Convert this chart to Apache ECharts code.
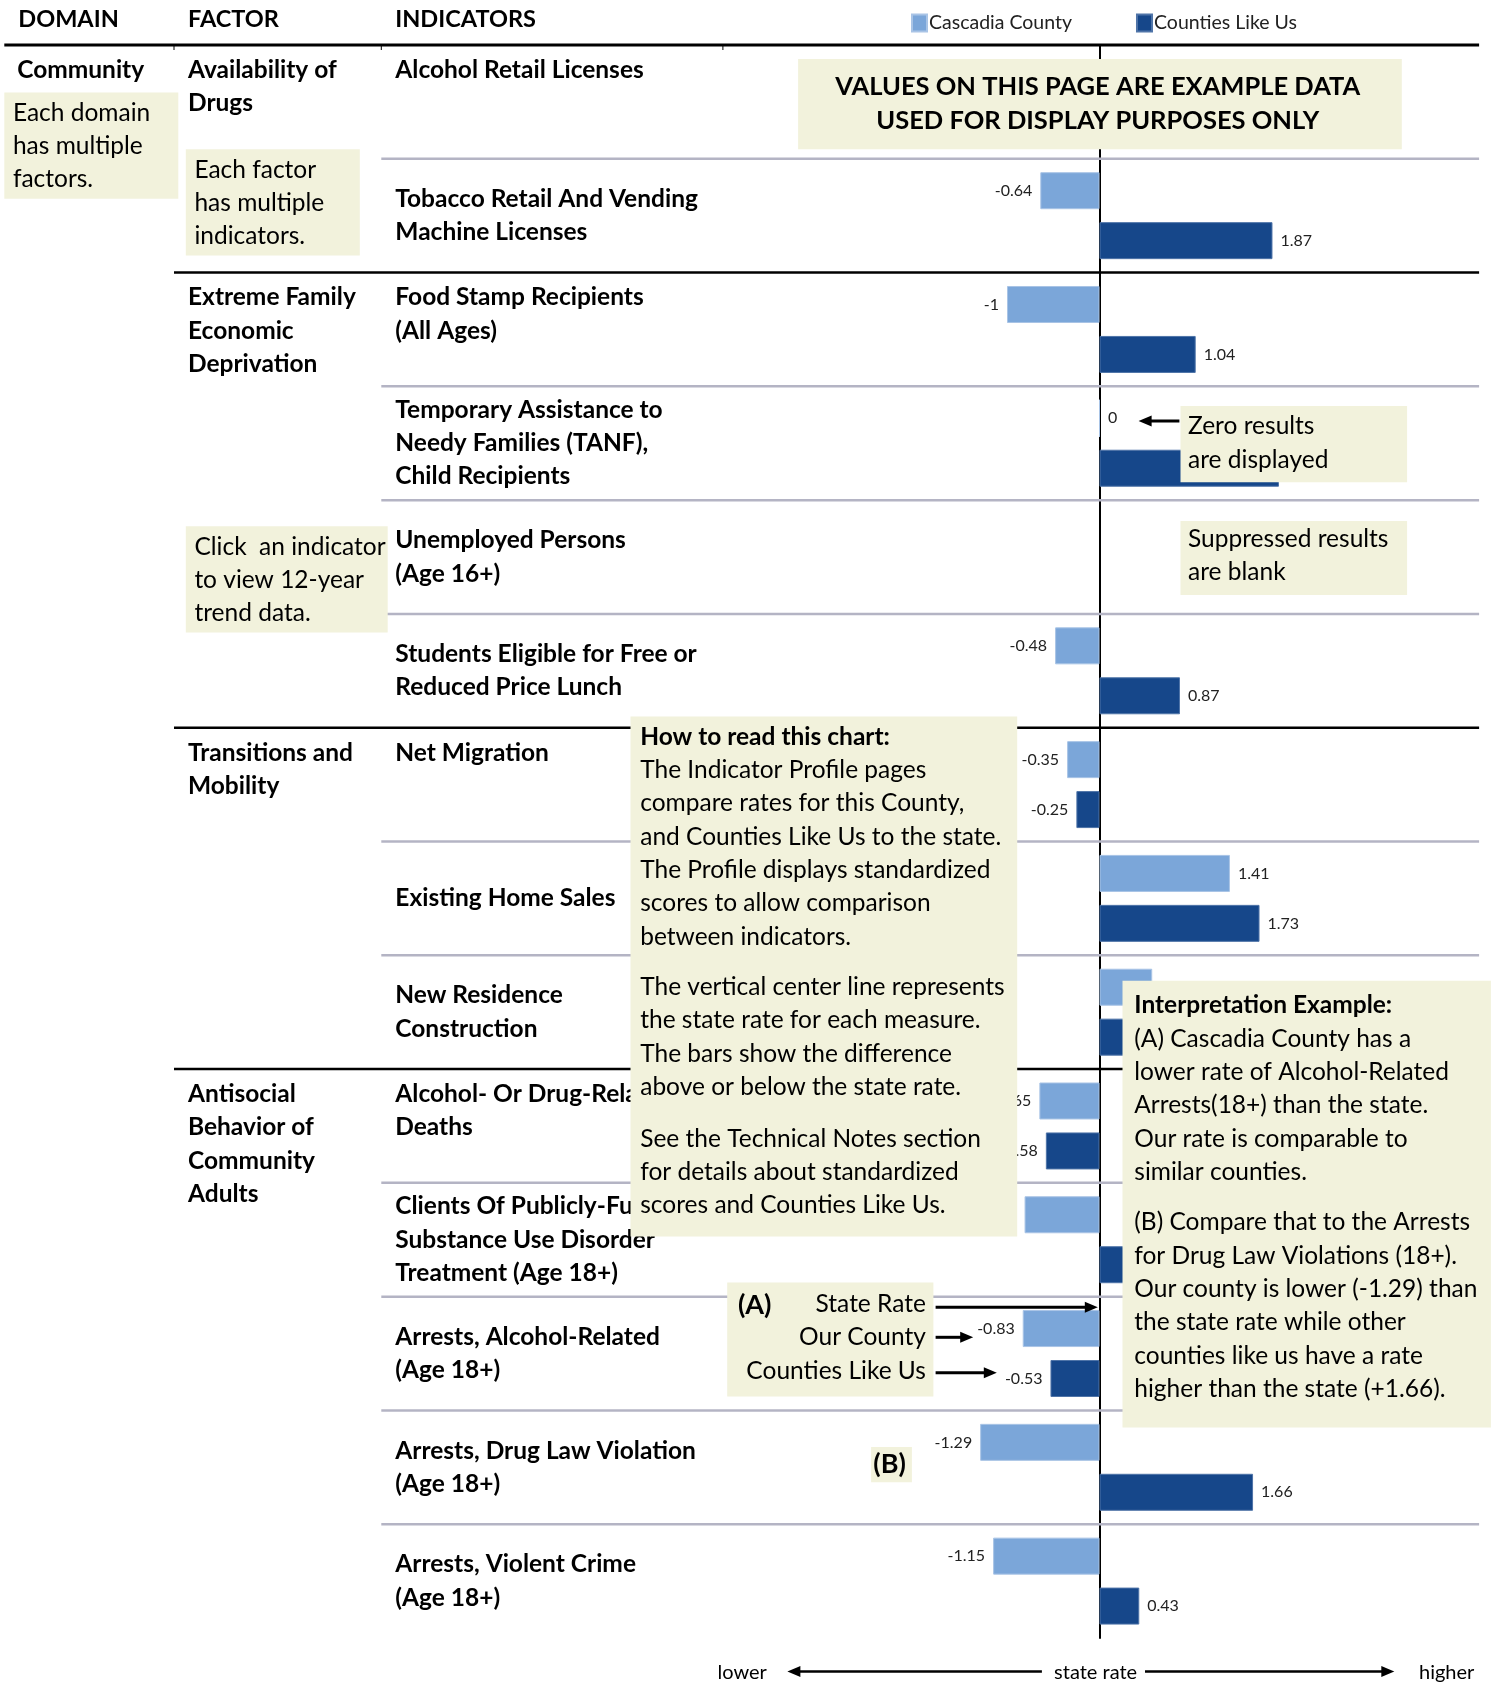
<!DOCTYPE html>
<html>
<head>
<meta charset="utf-8">
<script src="https://cdn.jsdelivr.net/npm/echarts@6/dist/echarts.min.js"></script>
<style>
html, body { margin: 0; padding: 0; background: #fff; }
#chart { width: 1492px; height: 1684px; }
</style>
</head>
<body>
<div id="chart"></div>
<script>
// indicators, top to bottom
var indicators = [
    'Alcohol Retail Licenses',
    'Tobacco Retail And Vending\nMachine Licenses',
    'Food Stamp Recipients\n(All Ages)',
    'Temporary Assistance to\nNeedy Families (TANF),\nChild Recipients',
    'Unemployed Persons\n(Age 16+)',
    'Students Eligible for Free or\nReduced Price Lunch',
    'Net Migration',
    'Existing Home Sales',
    'New Residence\nConstruction',
    'Alcohol- Or Drug-Related\nDeaths',
    'Clients Of Publicly-Funded\nSubstance Use Disorder\nTreatment (Age 18+)',
    'Arrests, Alcohol-Related\n(Age 18+)',
    'Arrests, Drug Law Violation\n(Age 18+)',
    'Arrests, Violent Crime\n(Age 18+)'
];
// null = suppressed / blank
var cascadia = [null, -0.64, -1, 0, null, -0.48, -0.35, 1.41, 0.57, -0.65, -0.81, -0.83, -1.29, -1.15];
var likeUs = [null, 1.87, 1.04, 1.94, null, 0.87, -0.25, 1.73, 0.62, -0.58, 0.75, -0.53, 1.66, 0.43];
var factors = ['Availability of\nDrugs', 'Extreme Family\nEconomic\nDeprivation', 'Transitions and\nMobility', 'Antisocial\nBehavior of\nCommunity\nAdults'];
var factorStart = [0, 2, 6, 9];
var legendNames = ['Cascadia County', 'Counties Like Us'];

var FONT = 'Lato';
var BOX = '#f2f2dc';
var FS = 24.5;
var S = function (v) { return Math.round(v * 1492 / 1389 * 10) / 10; };
var gridTop = 45, gridH = 1593, rowH = gridH / indicators.length;
var LH = S(31);

var els = [];
function text(x, y, str, opt) {
    opt = opt || {};
    var n = str.split('\n').length;
    els.push({
        type: 'text', x: x, y: y + (n - 1) * LH / 2, z: opt.z || 51,
        style: {
            text: str, fill: '#000', fontFamily: FONT,
            fontSize: opt.size || FS, fontWeight: opt.bold ? 'bold' : 'normal',
            align: opt.align || 'left', verticalAlign: 'middle', lineHeight: LH
        }
    });
}
function box(x, y, w, h) {
    els.push({ type: 'rect', z: 50, shape: { x: S(x), y: S(y), width: S(w), height: S(h) }, style: { fill: BOX } });
}
function hline(x1, x2, y, color, w) {
    els.push({ type: 'line', z: 1, shape: { x1: x1, y1: y, x2: x2, y2: y }, style: { stroke: color, lineWidth: w } });
}
function arrow(x1, x2, y, w) {
    var d = x2 > x1 ? 1 : -1;
    els.push({ type: 'line', z: 52, shape: { x1: x1, y1: y, x2: x2 - d * 8, y2: y }, style: { stroke: '#000', lineWidth: w || 3 } });
    els.push({ type: 'polygon', z: 52, shape: { points: [[x2, y], [x2 - d * 13, y - 5.5], [x2 - d * 13, y + 5.5]] }, style: { fill: '#000' } });
}

// header
text(S(17), S(18), 'DOMAIN', { bold: true, size: 23.5 });
text(S(175), S(18), 'FACTOR', { bold: true, size: 23.5 });
text(S(368), S(18), 'INDICATORS', { bold: true, size: 23.5 });
hline(S(4), S(1377), gridTop, '#000', 3);
[162, 355, 673].forEach(function (x) {
    els.push({ type: 'line', z: 1, shape: { x1: S(x), y1: gridTop, x2: S(x), y2: gridTop + 5 }, style: { stroke: '#000', lineWidth: 1 } });
});

// row separators
for (var i = 1; i < indicators.length; i++) {
    var y = gridTop + i * rowH;
    if (factorStart.indexOf(i) >= 0) hline(S(162), S(1377), y, '#000', 2.5);
    else hline(S(355), S(1377), y, '#b4b4c4', 2.5);
}

// domain / factor / indicator text
text(S(16), gridTop + 25, 'Community', { bold: true });
factors.forEach(function (f, k) {
    text(S(175), gridTop + factorStart[k] * rowH + 25, f, { bold: true, z: 40 });
});
indicators.forEach(function (s, r) {
    var n = s.split('\n').length;
    var top = gridTop + r * rowH;
    var y = factorStart.indexOf(r) >= 0 ? top + 25 : top + rowH / 2 - (n - 1) * LH / 2;
    text(S(368), y, s, { bold: true, z: 40 });
});

// notes
box(4, 86, 162, 99);
text(S(12), S(105), 'Each domain\nhas multiple\nfactors.');
box(173, 139, 162, 99);
text(S(181), S(158), 'Each factor\nhas multiple\nindicators.');
box(743, 55, 562, 84);
text(S(1022), S(81), 'VALUES ON THIS PAGE ARE EXAMPLE DATA\nUSED FOR DISPLAY PURPOSES ONLY', { bold: true, size: 25.5, align: 'center' });
box(173, 490, 188, 99);
text(S(181), S(509), 'Click  an indicator\nto view 12-year\ntrend data.');
box(1099, 378, 211, 71);
text(S(1106), S(397), 'Zero results\nare displayed');
arrow(S(1098), S(1060), S(392), 3);
box(1099, 485, 211, 69);
text(S(1106), S(502), 'Suppressed results\nare blank');

box(587, 667, 360, 484);
text(S(596), S(686), 'How to read this chart:', { bold: true });
text(S(596), S(717), 'The Indicator Profile pages\ncompare rates for this County,\nand Counties Like Us to the state.\nThe Profile displays standardized\nscores to allow comparison\nbetween indicators.');
text(S(596), S(919), 'The vertical center line represents\nthe state rate for each measure.\nThe bars show the difference\nabove or below the state rate.');
text(S(596), S(1060), 'See the Technical Notes section\nfor details about standardized\nscores and Counties Like Us.');

box(1045, 913, 343, 416);
text(S(1056), S(936), 'Interpretation Example:', { bold: true });
text(S(1056), S(967), '(A) Cascadia County has a\nlower rate of Alcohol-Related\nArrests(18+) than the state.\nOur rate is comparable to\nsimilar counties.');
text(S(1056), S(1138), '(B) Compare that to the Arrests\nfor Drug Law Violations (18+).\nOur county is lower (-1.29) than\nthe state rate while other\ncounties like us have a rate\nhigher than the state (+1.66).');

box(677, 1194, 192, 106);
text(S(687), S(1215), '(A)', { bold: true, size: 27 });
text(S(862), S(1214), 'State Rate\nOur County\nCounties Like Us', { align: 'right' });
arrow(S(871), S(1022), S(1217), 3);
arrow(S(871), S(906), S(1245), 3);
arrow(S(871), S(928), S(1278), 3);
box(811, 1347, 38, 33);
text(S(813), S(1363), '(B)', { bold: true, size: 27 });

// bottom scale
text(S(668), S(1557), 'lower', { size: 20 });
arrow(S(970), S(733), S(1556), 2.5);
text(S(1020), S(1557), 'state rate', { size: 20, align: 'center' });
arrow(S(1066), S(1298), S(1556), 2.5);
text(S(1321), S(1557), 'higher', { size: 20 });

function barData(vals) {
    return vals.map(function (v) {
        if (v == null) return '-';
        return { value: v, label: { position: v < 0 ? 'left' : 'right' } };
    });
}
var barLabel = { show: true, fontFamily: FONT, fontSize: 16, color: '#222', distance: 8 };

var option = {
    animation: false,
    textStyle: { fontFamily: FONT },
    legend: {
        data: legendNames, left: 906, top: 8, icon: 'rect',
        itemWidth: 15, itemHeight: 17, itemGap: 64,
        textStyle: { fontSize: 19.5, color: '#222', padding: [0, 0, 0, -3] }
    },
    grid: { left: 1099.5 - 3 * 92.5, width: 6 * 92.5, top: gridTop, height: gridH },
    xAxis: {
        type: 'value', min: -3, max: 3,
        axisLine: { show: false }, axisTick: { show: false },
        axisLabel: { show: false }, splitLine: { show: false }
    },
    yAxis: {
        type: 'category', data: indicators, inverse: true,
        axisLine: { show: true, onZero: true, lineStyle: { color: '#000', width: 2 } },
        axisTick: { show: false }, axisLabel: { show: false }
    },
    series: [
        {
            name: legendNames[0], type: 'bar', data: barData(cascadia),
            barWidth: 37, barGap: '35%',
            itemStyle: { color: '#7ba6d9', borderColor: '#a9c4e6', borderWidth: 1 },
            label: barLabel
        },
        {
            name: legendNames[1], type: 'bar', data: barData(likeUs),
            barWidth: 37,
            itemStyle: { color: '#16478a', borderColor: '#4f74a8', borderWidth: 1 },
            label: barLabel
        }
    ],
    graphic: { elements: els }
};
echarts.init(document.getElementById('chart')).setOption(option);
</script>
</body>
</html>
